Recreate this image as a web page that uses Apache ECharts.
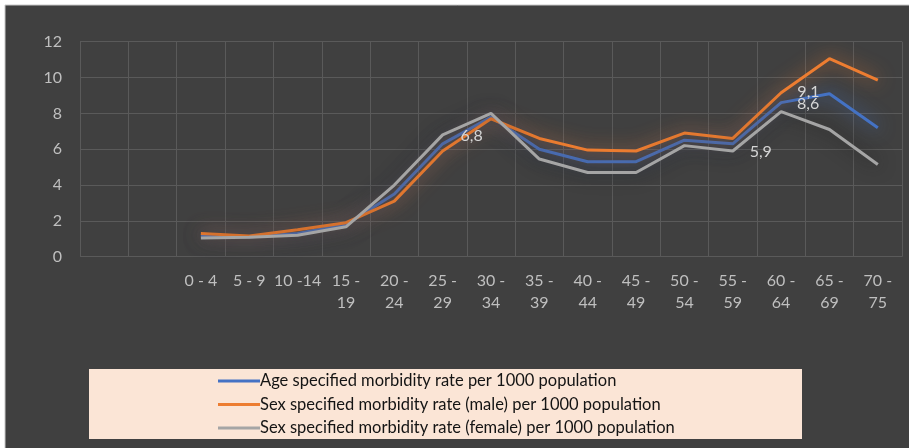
<!DOCTYPE html>
<html><head><meta charset="utf-8">
<script src="https://cdn.jsdelivr.net/npm/echarts@6/dist/echarts.min.js"></script>
<style>html,body{margin:0;padding:0;background:#fff}#c{width:909px;height:448px}</style>
</head><body><div id="c"></div>
<script>
// Categories (two leading empty slots as in the original chart)
const categories = ['', '', '0 - 4', '5 - 9', '10 -14', '15 - 19', '20 - 24', '25 - 29', '30 - 34', '35 - 39', '40 - 44', '45 - 49', '50 - 54', '55 - 59', '60 - 64', '65 - 69', '70 - 75'];
const ageRate    = [null, null, 1.2, 1.1, 1.3, 1.8, 3.5, 6.3, 7.8, 6.0, 5.3, 5.3, 6.5, 6.3, 8.6, 9.1, 7.2];
const maleRate   = [null, null, 1.3, 1.15, 1.5, 1.9, 3.1, 5.9, 7.7, 6.6, 5.95, 5.9, 6.9, 6.6, 9.15, 11.05, 9.85];
const femaleRate = [null, null, 1.05, 1.08, 1.2, 1.67, 4.0, 6.8, 8.0, 5.45, 4.7, 4.7, 6.2, 5.9, 8.1, 7.1, 5.15];
const seriesNames = [
  'Age specified morbidity rate per 1000 population',
  'Sex specified morbidity rate (male) per 1000 population',
  'Sex specified morbidity rate (female) per 1000 population'
];
const yTicks = [0, 2, 4, 6, 8, 10, 12];

// Data labels shown in the original (series index, category index)
const labelled = [[0, 14], [0, 15], [2, 13], [2, 7]];
const labelOffsets = {'0-14': [27, 1], '0-15': [-21, -2], '2-13': [28, 1], '2-7': [29, 1]};

const colors = ['#4472C4', '#ED7D31', '#A5A5A5'];
const glow = ['rgba(68,114,196,0.9)', 'rgba(237,125,49,0.85)', 'rgba(25,25,25,0.9)'];
const allData = [ageRate, maleRate, femaleRate];
const FONT = 'Lato, "Open Sans", sans-serif';

function buildData(si) {
  return allData[si].map((v, i) => {
    const key = si + '-' + i;
    if (labelOffsets[key] && labelled.some(p => p[0] === si && p[1] === i)) {
      return {
        value: v,
        label: {
          show: true, position: 'inside', offset: labelOffsets[key],
          formatter: p => String(p.value).replace('.', ','),
          color: '#d6d6d6', fontSize: 16, fontFamily: FONT
        }
      };
    }
    return v;
  });
}

const chart = echarts.init(document.getElementById('c'), null, {renderer: 'canvas'});
chart.setOption({
  backgroundColor: '#ffffff',
  animation: false,
  graphic: [
    {type: 'rect', z: -100, silent: true, shape: {x: 5, y: 5, width: 910, height: 450},
     style: {fill: '#404040', stroke: '#c8c8c8', lineWidth: 1}},
    {type: 'rect', z: -50, silent: true, shape: {x: 89, y: 369, width: 713, height: 70},
     style: {fill: '#FBE5D6'}}
  ],
  grid: {left: 80, right: 7, top: 41.7, bottom: 191.3},
  legend: {
    orient: 'vertical', left: 213, top: 367,
    itemWidth: 42, itemHeight: 3, itemGap: 5.5, icon: 'rect',
    textStyle: {color: '#141414', fontSize: 16.5, lineHeight: 18, fontFamily: FONT, padding: [0, 0, 0, -5]},
    data: seriesNames
  },
  xAxis: {
    type: 'category', data: categories, boundaryGap: true,
    axisLine: {show: false}, axisTick: {show: false, interval: 0},
    axisLabel: {
      interval: 0, color: '#bfbfbf', fontSize: 16, fontFamily: FONT,
      lineHeight: 22, margin: 13,
      formatter: v => v.length > 6 ? v.replace('- ', '-\n') : v
    },
    splitLine: {show: true, interval: 0, lineStyle: {color: '#5a5a5a', width: 1}}
  },
  yAxis: {
    type: 'value', min: yTicks[0], max: yTicks[yTicks.length - 1], interval: 2,
    axisLine: {show: false}, axisTick: {show: false},
    axisLabel: {color: '#bfbfbf', fontSize: 16, fontFamily: FONT, margin: 18},
    splitLine: {lineStyle: {color: '#5a5a5a', width: 1}}
  },
  series: seriesNames.map((name, si) => ({
    name: name, type: 'line', data: buildData(si),
    symbol: 'circle', symbolSize: 0, showSymbol: true,
    itemStyle: {color: colors[si]},
    lineStyle: {color: colors[si], width: 3, shadowBlur: 18, shadowColor: glow[si]},
    emphasis: {disabled: true}
  }))
});
</script></body></html>
